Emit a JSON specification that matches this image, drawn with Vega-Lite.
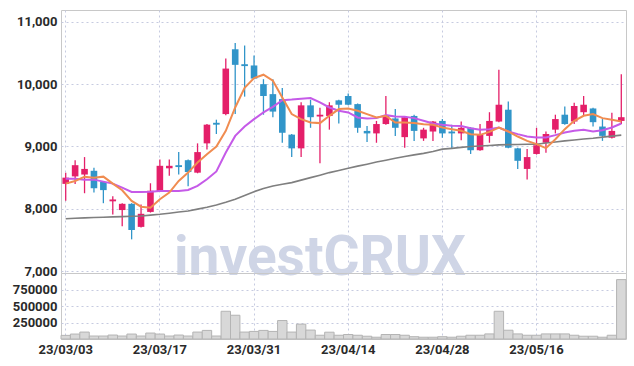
{
  "$schema": "https://vega.github.io/schema/vega-lite/v6.json",
  "padding": {"left": 0, "top": 9, "right": 9, "bottom": 0},
  "background": "white",
  "spacing": 0,
  "bounds": "flush",
  "resolve": {"scale": {"x": "independent"}},
  "config": {
    "view": {"stroke": "#c8c8c8"},
    "axis": {
      "labelFont": "Roboto",
      "labelFontWeight": "bold",
      "labelFontSize": 13,
      "labelColor": "#2a2a2a",
      "ticks": false,
      "domain": false,
      "gridColor": "#c6cbe0",
      "gridDash": [2, 3],
      "gridWidth": 1,
      "title": null
    }
  },
  "data": {
    "values": [
      {"d": "23/03/03", "o": 8400, "h": 8580, "l": 8130, "c": 8500, "v": 55000, "ma5": 8404, "ma20": 8484, "maL": 7841},
      {"d": "23/03/06", "o": 8520, "h": 8780, "l": 8400, "c": 8700, "v": 75000, "ma5": 8447, "ma20": 8484, "maL": 7848},
      {"d": "23/03/07", "o": 8550, "h": 8830, "l": 8250, "c": 8640, "v": 105000, "ma5": 8516, "ma20": 8468, "maL": 7855},
      {"d": "23/03/08", "o": 8610, "h": 8660, "l": 8260, "c": 8330, "v": 45000, "ma5": 8500, "ma20": 8468, "maL": 7860},
      {"d": "23/03/09", "o": 8430, "h": 8440, "l": 8090, "c": 8300, "v": 45000, "ma5": 8516, "ma20": 8436, "maL": 7865},
      {"d": "23/03/10", "o": 8120, "h": 8200, "l": 7910, "c": 8150, "v": 60000, "ma5": 8404, "ma20": 8404, "maL": 7870},
      {"d": "23/03/13", "o": 7980, "h": 8090, "l": 7720, "c": 8080, "v": 45000, "ma5": 8298, "ma20": 8340, "maL": 7875},
      {"d": "23/03/14", "o": 8080, "h": 8090, "l": 7510, "c": 7660, "v": 75000, "ma5": 8126, "ma20": 8270, "maL": 7880},
      {"d": "23/03/15", "o": 7710, "h": 8070, "l": 7700, "c": 7920, "v": 45000, "ma5": 8034, "ma20": 8270, "maL": 7884},
      {"d": "23/03/16", "o": 7950, "h": 8410, "l": 7940, "c": 8290, "v": 90000, "ma5": 8018, "ma20": 8275, "maL": 7898},
      {"d": "23/03/17", "o": 8280, "h": 8790, "l": 8270, "c": 8690, "v": 75000, "ma5": 8153, "ma20": 8286, "maL": 7912},
      {"d": "23/03/20", "o": 8650, "h": 8790, "l": 8530, "c": 8690, "v": 45000, "ma5": 8260, "ma20": 8286, "maL": 7930},
      {"d": "23/03/21", "o": 8700, "h": 8910, "l": 8550, "c": 8670, "v": 60000, "ma5": 8447, "ma20": 8286, "maL": 7948},
      {"d": "23/03/22", "o": 8780, "h": 8790, "l": 8360, "c": 8590, "v": 45000, "ma5": 8581, "ma20": 8302, "maL": 7965},
      {"d": "23/03/23", "o": 8580, "h": 9050, "l": 8570, "c": 8910, "v": 105000, "ma5": 8742, "ma20": 8367, "maL": 7995},
      {"d": "23/03/24", "o": 9050, "h": 9360, "l": 8950, "c": 9350, "v": 130000, "ma5": 8876, "ma20": 8474, "maL": 8025},
      {"d": "23/03/27", "o": 9380, "h": 9430, "l": 9200, "c": 9350, "v": 45000, "ma5": 8999, "ma20": 8600, "maL": 8061},
      {"d": "23/03/28", "o": 9520, "h": 10410, "l": 9500, "c": 10250, "v": 420000, "ma5": 9251, "ma20": 8902, "maL": 8105},
      {"d": "23/03/29", "o": 10560, "h": 10660, "l": 9520, "c": 10310, "v": 360000, "ma5": 9626, "ma20": 9170, "maL": 8153},
      {"d": "23/03/30", "o": 10320, "h": 10620, "l": 9800, "c": 10290, "v": 105000, "ma5": 9940, "ma20": 9320, "maL": 8215},
      {"d": "23/03/31", "o": 10300, "h": 10460, "l": 10080, "c": 10090, "v": 115000, "ma5": 10097, "ma20": 9439, "maL": 8275},
      {"d": "23/04/03", "o": 10000, "h": 10080, "l": 9510, "c": 9810, "v": 130000, "ma5": 10152, "ma20": 9546, "maL": 8325},
      {"d": "23/04/04", "o": 9840, "h": 10080, "l": 9470, "c": 9560, "v": 115000, "ma5": 10055, "ma20": 9637, "maL": 8367},
      {"d": "23/04/05", "o": 9760, "h": 9940, "l": 9060, "c": 9220, "v": 280000, "ma5": 9787, "ma20": 9742, "maL": 8395},
      {"d": "23/04/06", "o": 9190, "h": 9200, "l": 8830, "c": 8970, "v": 105000, "ma5": 9520, "ma20": 9752, "maL": 8420},
      {"d": "23/04/07", "o": 8970, "h": 9710, "l": 8830, "c": 9660, "v": 225000, "ma5": 9439, "ma20": 9766, "maL": 8460},
      {"d": "23/04/10", "o": 9660, "h": 9750, "l": 9300, "c": 9470, "v": 135000, "ma5": 9385, "ma20": 9777, "maL": 8500},
      {"d": "23/04/11", "o": 9480, "h": 9620, "l": 8730, "c": 9510, "v": 57000, "ma5": 9375, "ma20": 9709, "maL": 8540},
      {"d": "23/04/12", "o": 9490, "h": 9710, "l": 9270, "c": 9660, "v": 103000, "ma5": 9492, "ma20": 9626, "maL": 8581},
      {"d": "23/04/13", "o": 9740, "h": 9750, "l": 9370, "c": 9670, "v": 57000, "ma5": 9600, "ma20": 9573, "maL": 8616},
      {"d": "23/04/14", "o": 9810, "h": 9850, "l": 9660, "c": 9670, "v": 68000, "ma5": 9610, "ma20": 9546, "maL": 8651},
      {"d": "23/04/17", "o": 9680, "h": 9690, "l": 9220, "c": 9300, "v": 57000, "ma5": 9573, "ma20": 9465, "maL": 8685},
      {"d": "23/04/18", "o": 9250, "h": 9330, "l": 9070, "c": 9210, "v": 42000, "ma5": 9520, "ma20": 9449, "maL": 8716},
      {"d": "23/04/19", "o": 9210, "h": 9410, "l": 9060, "c": 9360, "v": 27000, "ma5": 9465, "ma20": 9455, "maL": 8750},
      {"d": "23/04/20", "o": 9360, "h": 9810, "l": 9350, "c": 9500, "v": 68000, "ma5": 9492, "ma20": 9503, "maL": 8780},
      {"d": "23/04/21", "o": 9450, "h": 9600, "l": 9170, "c": 9300, "v": 68000, "ma5": 9385, "ma20": 9481, "maL": 8810},
      {"d": "23/04/24", "o": 9150, "h": 9490, "l": 8980, "c": 9470, "v": 57000, "ma5": 9385, "ma20": 9476, "maL": 8838},
      {"d": "23/04/25", "o": 9490, "h": 9510, "l": 9090, "c": 9250, "v": 35000, "ma5": 9375, "ma20": 9455, "maL": 8865},
      {"d": "23/04/26", "o": 9130, "h": 9300, "l": 9090, "c": 9270, "v": 27000, "ma5": 9358, "ma20": 9412, "maL": 8890},
      {"d": "23/04/27", "o": 9240, "h": 9410, "l": 9090, "c": 9400, "v": 27000, "ma5": 9348, "ma20": 9369, "maL": 8920},
      {"d": "23/04/28", "o": 9410, "h": 9440, "l": 9140, "c": 9210, "v": 35000, "ma5": 9304, "ma20": 9348, "maL": 8957},
      {"d": "23/05/02", "o": 9240, "h": 9350, "l": 8970, "c": 9210, "v": 27000, "ma5": 9278, "ma20": 9332, "maL": 8970},
      {"d": "23/05/03", "o": 9210, "h": 9400, "l": 9100, "c": 9300, "v": 42000, "ma5": 9251, "ma20": 9330, "maL": 8985},
      {"d": "23/05/04", "o": 9300, "h": 9310, "l": 8880, "c": 8940, "v": 57000, "ma5": 9198, "ma20": 9294, "maL": 8999},
      {"d": "23/05/08", "o": 8940, "h": 9360, "l": 8930, "c": 9190, "v": 57000, "ma5": 9187, "ma20": 9267, "maL": 9008},
      {"d": "23/05/09", "o": 9170, "h": 9550, "l": 9060, "c": 9410, "v": 77000, "ma5": 9235, "ma20": 9278, "maL": 9017},
      {"d": "23/05/10", "o": 9400, "h": 10230, "l": 9390, "c": 9670, "v": 420000, "ma5": 9304, "ma20": 9304, "maL": 9026},
      {"d": "23/05/11", "o": 9590, "h": 9720, "l": 8970, "c": 8980, "v": 133000, "ma5": 9240, "ma20": 9240, "maL": 9030},
      {"d": "23/05/12", "o": 8970, "h": 8980, "l": 8640, "c": 8770, "v": 77000, "ma5": 9160, "ma20": 9198, "maL": 9033},
      {"d": "23/05/15", "o": 8640, "h": 8960, "l": 8470, "c": 8830, "v": 57000, "ma5": 9090, "ma20": 9160, "maL": 9035},
      {"d": "23/05/16", "o": 8880, "h": 9300, "l": 8870, "c": 9020, "v": 57000, "ma5": 9037, "ma20": 9144, "maL": 9037},
      {"d": "23/05/17", "o": 9060, "h": 9240, "l": 8900, "c": 9200, "v": 77000, "ma5": 8973, "ma20": 9144, "maL": 9055},
      {"d": "23/05/18", "o": 9270, "h": 9510, "l": 9210, "c": 9440, "v": 77000, "ma5": 9117, "ma20": 9182, "maL": 9072},
      {"d": "23/05/19", "o": 9510, "h": 9640, "l": 9350, "c": 9360, "v": 77000, "ma5": 9278, "ma20": 9224, "maL": 9090},
      {"d": "23/05/22", "o": 9400, "h": 9700, "l": 9360, "c": 9650, "v": 57000, "ma5": 9412, "ma20": 9251, "maL": 9105},
      {"d": "23/05/23", "o": 9550, "h": 9810, "l": 9490, "c": 9670, "v": 42000, "ma5": 9492, "ma20": 9267, "maL": 9120},
      {"d": "23/05/24", "o": 9610, "h": 9620, "l": 9320, "c": 9390, "v": 42000, "ma5": 9520, "ma20": 9240, "maL": 9133},
      {"d": "23/05/25", "o": 9320, "h": 9440, "l": 9090, "c": 9170, "v": 27000, "ma5": 9455, "ma20": 9262, "maL": 9150},
      {"d": "23/05/26", "o": 9140, "h": 9540, "l": 9130, "c": 9250, "v": 57000, "ma5": 9428, "ma20": 9304, "maL": 9166},
      {"d": "23/05/30", "o": 9410, "h": 10160, "l": 9360, "c": 9470, "v": 900000, "ma5": 9401, "ma20": 9369, "maL": 9182}
    ]
  },
  "vconcat": [
    {
      "width": 565,
      "height": 263,
      "encoding": {
        "x": {
          "field": "d",
          "type": "ordinal",
          "sort": "ascending",
          "scale": {"type": "band", "paddingInner": 0.3, "paddingOuter": 0.15},
          "axis": {
            "values": ["23/03/03", "23/03/17", "23/03/31", "23/04/14", "23/04/28", "23/05/16"],
            "labels": false,
            "grid": true,
            "bandPosition": 0.5,
            "minExtent": 0,
            "maxExtent": 0
          }
        }
      },
      "layer": [
        {
          "transform": [{"filter": "datum.d == '23/04/11'"}],
          "mark": {
            "type": "text",
            "text": "investCRUX",
            "fontSize": 55,
            "fontWeight": "bold",
            "font": "Roboto",
            "color": "#cfd5e6",
            "align": "center",
            "baseline": "alphabetic"
          },
          "encoding": {
            "y": {"datum": 6945, "type": "quantitative"}
          }
        },
        {
          "mark": {"type": "rule", "strokeWidth": 1.3},
          "encoding": {
            "y": {
              "field": "l",
              "type": "quantitative",
              "scale": {"domain": [6970, 11190], "nice": false, "zero": false},
              "axis": {
                "values": [7000, 7500, 8000, 8500, 9000, 9500, 10000, 10500, 11000],
                "format": ",d",
                "grid": true,
                "labelPadding": 4,
                "minExtent": 60,
                "maxExtent": 60
              }
            },
            "y2": {"field": "h"},
            "color": {"condition": {"test": "datum.c >= datum.o", "value": "#e41f69"}, "value": "#3195c9"}
          }
        },
        {
          "mark": {"type": "bar"},
          "encoding": {
            "y": {"field": "o", "type": "quantitative"},
            "y2": {"field": "c"},
            "color": {"condition": {"test": "datum.c >= datum.o", "value": "#e41f69"}, "value": "#3195c9"}
          }
        },
        {
          "mark": {"type": "line", "color": "#7f7f7f", "strokeWidth": 1.6},
          "encoding": {"y": {"field": "maL", "type": "quantitative"}}
        },
        {
          "mark": {"type": "line", "color": "#c55ae8", "strokeWidth": 2},
          "encoding": {"y": {"field": "ma20", "type": "quantitative"}}
        },
        {
          "mark": {"type": "line", "color": "#f08c50", "strokeWidth": 2},
          "encoding": {"y": {"field": "ma5", "type": "quantitative"}}
        }
      ]
    },
    {
      "width": 565,
      "height": 66,
      "mark": {"type": "bar", "color": "#d8d8d8", "stroke": "#b4b4b4", "strokeWidth": 1},
      "encoding": {
        "x": {
          "field": "d",
          "type": "ordinal",
          "sort": "ascending",
          "scale": {"type": "band", "paddingInner": 0, "paddingOuter": 0},
          "axis": {
            "values": ["23/03/03", "23/03/17", "23/03/31", "23/04/14", "23/04/28", "23/05/16"],
            "labelAngle": 0,
            "labelPadding": 4,
            "grid": true,
            "bandPosition": 0.5
          }
        },
        "y": {
          "field": "v",
          "type": "quantitative",
          "scale": {"domain": [0, 1000000], "nice": false},
          "axis": {
            "values": [250000, 500000, 750000],
            "format": "d",
            "grid": true,
            "labelPadding": 4,
            "minExtent": 60,
            "maxExtent": 60
          }
        }
      }
    }
  ]
}
